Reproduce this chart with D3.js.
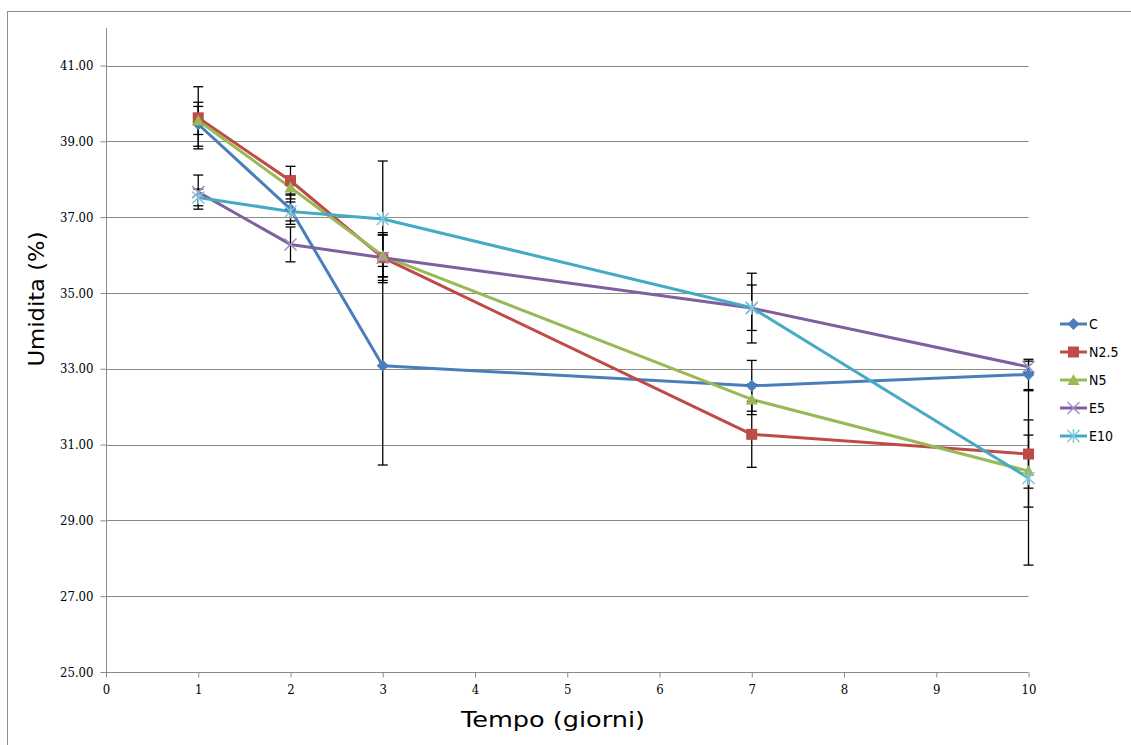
<!DOCTYPE html>
<html><head><meta charset="utf-8">
<script src="https://cdn.jsdelivr.net/npm/d3@7"></script>
<style>body{margin:0;background:#fff}svg{display:block}</style>
</head><body>
<svg id="c" width="1131" height="745"></svg>
<script>
const days = [1, 2, 3, 7, 10];
const seriesNames = ["C", "N2.5", "N5", "E5", "E10"];
const valC    = [39.45, 37.21, 33.08, 32.55, 32.85];
const valN25  = [39.62, 37.96, 35.93, 31.27, 30.75];
const valN5   = [39.55, 37.78, 35.98, 32.19, 30.30];
const valE5   = [37.66, 36.28, 35.93, 34.60, 33.05];
const valE10  = [37.52, 37.15, 36.95, 34.61, 30.12];
const errC    = [0.58, 0.40, 2.62, 0.67, 0.40];
const errN25  = [0.82, 0.38, 0.66, 0.87, 0.90];
const errN5   = [0.37, 0.30, 0.55, 0.40, 0.95];
const errE5   = [0.45, 0.46, 0.60, 0.92, 0.15];
const errE10  = [0.22, 0.25, 1.53, 0.60, 2.30];
const yTicks = [25, 27, 29, 31, 33, 35, 37, 39, 41];
const xTicks = [0,1,2,3,4,5,6,7,8,9,10];
const colors = ["#4a7ebb", "#be4b48", "#98b954", "#7d60a0", "#46aac5"];

const values = [valC, valN25, valN5, valE5, valE10];
const errs = [errC, errN25, errN5, errE5, errE10];

const svg = d3.select("#c");
svg.append("rect").attr("x",7.5).attr("y",11.5).attr("width",1130).attr("height",740)
  .attr("fill","#fff").attr("stroke","#8c8c8c").attr("stroke-width",1);

const x = d3.scaleLinear().domain([0,10]).range([106,1028.5]);
const y = d3.scaleLinear().domain([25,41]).range([672,65.5]);

// gridlines
svg.append("g").selectAll("line").data(yTicks.slice(1)).join("line")
  .attr("x1",106).attr("x2",1028.5)
  .attr("y1",d=>Math.round(y(d))+0.5).attr("y2",d=>Math.round(y(d))+0.5)
  .attr("stroke","#8a8a8a").attr("stroke-width",1);

const tickFont = "DejaVu Serif Condensed, DejaVu Serif";

// y axis
const ya = svg.append("g").attr("transform","translate(106.5,0)")
  .call(d3.axisLeft(y).tickValues(yTicks).tickSize(6).tickPadding(7).tickFormat(d3.format(".2f")));
ya.select(".domain").remove();
ya.selectAll(".tick line").attr("stroke","#8a8a8a");
ya.selectAll("text").attr("font-family",tickFont).attr("font-size","13px").attr("fill","#000");
svg.append("line").attr("x1",106.5).attr("x2",106.5).attr("y1",28).attr("y2",672.5).attr("stroke","#8a8a8a");

// x axis
const xa = svg.append("g").attr("transform","translate(0,672.5)")
  .call(d3.axisBottom(x).tickValues(xTicks).tickSize(5).tickPadding(7).tickFormat(d3.format("d")));
xa.select(".domain").attr("stroke","#8a8a8a").attr("d","M106,0H1028.5");
xa.selectAll(".tick line").attr("stroke","#8a8a8a");
xa.selectAll("text").attr("font-family",tickFont).attr("font-size","13px").attr("fill","#000");

// axis titles
svg.append("text").attr("x",553).attr("y",727).attr("text-anchor","middle")
  .attr("font-family","DejaVu Sans").attr("font-size","21px")
  .attr("textLength",184).attr("lengthAdjust","spacingAndGlyphs").text("Tempo (giorni)");
svg.append("text").attr("transform","translate(44,299) rotate(-90)").attr("text-anchor","middle")
  .attr("font-family","DejaVu Sans").attr("font-size","21px")
  .attr("textLength",135).attr("lengthAdjust","spacingAndGlyphs").text("Umidita (%)");

const line = d3.line().x((d,i)=>x(days[i])).y(d=>y(d));

// lines
values.forEach((v,s)=>{
  svg.append("path").datum(v).attr("d",line).attr("fill","none")
    .attr("stroke",colors[s]).attr("stroke-width",3).attr("stroke-linejoin","round");
});

// error bars
const eb = svg.append("g").attr("stroke","#000").attr("stroke-width",1.3);
values.forEach((v,s)=>{
  v.forEach((val,i)=>{
    const cx = x(days[i]);
    const y1 = y(val+errs[s][i]), y2 = y(val-errs[s][i]);
    eb.append("line").attr("x1",cx).attr("x2",cx).attr("y1",y1).attr("y2",y2);
    eb.append("line").attr("x1",cx-5).attr("x2",cx+5).attr("y1",y1).attr("y2",y1);
    eb.append("line").attr("x1",cx-5).attr("x2",cx+5).attr("y1",y2).attr("y2",y2);
  });
});

// markers
function marker(g, s, cx, cy){
  const c = colors[s];
  if(s===0){
    g.append("path").attr("d",`M${cx},${cy-6}L${cx+6},${cy}L${cx},${cy+6}L${cx-6},${cy}Z`).attr("fill",c);
  } else if(s===1){
    g.append("rect").attr("x",cx-5.5).attr("y",cy-5.5).attr("width",11).attr("height",11).attr("fill",c);
  } else if(s===2){
    g.append("path").attr("d",`M${cx},${cy-6}L${cx+6},${cy+5}L${cx-6},${cy+5}Z`).attr("fill",c);
  } else if(s===3){
    g.append("path").attr("d",`M${cx-6},${cy-6}L${cx+6},${cy+6}M${cx+6},${cy-6}L${cx-6},${cy+6}`)
      .attr("stroke","#a58fc2").attr("stroke-width",1.5);
  } else {
    g.append("path").attr("d",`M${cx-6},${cy-6}L${cx+6},${cy+6}M${cx+6},${cy-6}L${cx-6},${cy+6}M${cx},${cy-7}L${cx},${cy+7}`)
      .attr("stroke","#7ec8dc").attr("stroke-width",1.5);
  }
}
const mg = svg.append("g");
values.forEach((v,s)=>{
  v.forEach((val,i)=> marker(mg, s, x(days[i]), y(val)));
});

// legend
const lg = svg.append("g");
seriesNames.forEach((n,s)=>{
  const ly = 324 + s*28;
  lg.append("line").attr("x1",1060).attr("x2",1087).attr("y1",ly).attr("y2",ly)
    .attr("stroke",colors[s]).attr("stroke-width",3);
  marker(lg, s, 1073.5, ly);
  lg.append("text").attr("x",1089).attr("y",ly+5).attr("font-family","DejaVu Sans Condensed, DejaVu Sans")
    .attr("font-size","14px").text(n);
});
</script>
</body></html>
